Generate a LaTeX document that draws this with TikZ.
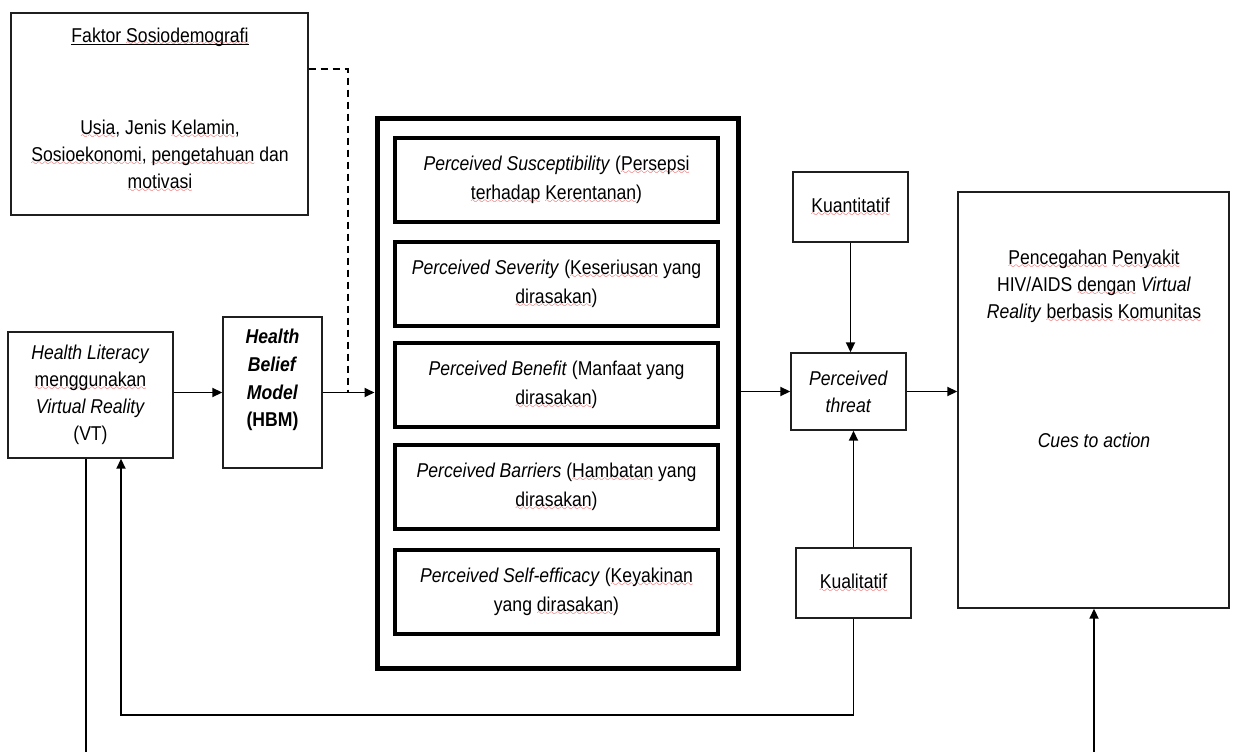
\documentclass[tikz,border=0pt]{standalone}
\usepackage{fontspec}
\setmainfont{Liberation Sans}[FakeStretch=0.88]
\usetikzlibrary{arrows.meta}
\definecolor{spellred}{RGB}{225,25,25}
% red wavy underline for flagged words
\font\wavefont=lasy10 at 9pt
\newcommand\sq[1]{\setbox0\hbox{#1}%
  \rlap{\textcolor{spellred}{\lower4pt\hbox to\wd0{\xleaders\hbox{\wavefont\char58}\hfil}}}\box0\relax}
\begin{document}
\begin{tikzpicture}[x=1pt,y=-1pt,
  txt/.style={inner sep=0pt, align=center, font=\fontsize{20}{27}\selectfont},
  thinbox/.style={draw=black!88, line width=1.4pt, inner sep=0pt, align=center,
    font=\fontsize{20}{27}\selectfont},
  thickbox/.style={draw=black, line width=4pt, inner sep=0pt, align=center,
    font=\fontsize{20}{29}\selectfont, minimum width=323pt, minimum height=84pt},
  arr/.style={line width=1.8pt, -{Triangle[length=10pt,width=9pt]}},
  plainline/.style={line width=1.8pt},
  dashline/.style={line width=1.8pt, dash pattern=on 7pt off 5pt}
]
\useasboundingbox (0,0) rectangle (1233,752);

% socio-demographic factors
\node[thinbox, minimum width=297pt, minimum height=202pt] (faktor) at (159.5,114) {};
\node[txt, anchor=base] (ftitle) at (160,42) {Faktor \sq{Sosiodemografi}};
\draw[line width=1pt] ([yshift=-2.2pt]ftitle.base west) -- ([yshift=-2.2pt]ftitle.base east);
\node[txt] (fbody) at (160,156)
  {\sq{Usia}, Jenis \sq{Kelamin},\\ \sq{Sosioekonomi}, \sq{pengetahuan} dan\\ \sq{motivasi}};

% health literacy and HBM
\node[thinbox, minimum width=165pt, minimum height=126pt] (vt) at (90.5,395)
  {\textit{Health Literacy}\\ \sq{menggunakan}\\ \textit{Virtual Reality}\\ (VT)};
\node[thinbox, minimum width=99pt, minimum height=151pt] (hbm) at (272.5,392.5) {};
\node[txt, font=\fontsize{20}{27.7}\selectfont\bfseries] (hbmtext) at (272.5,380)
  {\textit{Health}\\ \textit{Belief}\\ \textit{Model}\\ (HBM)};

% HBM constructs
\node[draw=black, line width=5pt, minimum width=361pt, minimum height=550pt, inner sep=0pt]
  (outer) at (557.5,393) {};
\node[thickbox] (c1) at (556.5,180)
  {\textit{Perceived Susceptibility} (\sq{Persepsi}\\ \sq{terhadap} \sq{Kerentanan})};
\node[thickbox] (c2) at (556.5,283.5)
  {\textit{Perceived Severity} (\sq{Keseriusan} yang\\ \sq{dirasakan})};
\node[thickbox] (c3) at (556.5,385)
  {\textit{Perceived Benefit} (Manfaat yang\\ \sq{dirasakan})};
\node[thickbox] (c4) at (556.5,486.5)
  {\textit{Perceived Barriers} (\sq{Hambatan} yang\\ \sq{dirasakan})};
\node[thickbox] (c5) at (556.5,591.5)
  {\textit{Perceived Self-efficacy} (\sq{Keyakinan}\\ yang \sq{dirasakan})};

% threat and methods
\node[thinbox, minimum width=115pt, minimum height=70pt] (kuan) at (850.5,207) {\sq{Kuantitatif}};
\node[thinbox, minimum width=115pt, minimum height=77pt]
  (pt) at (848.5,391.5) {\textit{Perceived}\\ \textit{threat}};
\node[thinbox, minimum width=115pt, minimum height=70pt] (kual) at (853.5,583) {\sq{Kualitatif}};

% outcome
\node[thinbox, minimum width=271pt, minimum height=416pt] (right) at (1093.5,400) {};
\node[txt] (outtext) at (1094,286)
  {\sq{Pencegahan} \sq{Penyakit}\\ HIV/AIDS \sq{dengan} \textit{Virtual}\\ \textit{Reality} \sq{berbasis} \sq{Komunitas}};
\node[txt] (cues) at (1094,440) {\textit{Cues to action}};

% connectors
\coordinate (dk) at (348,69);
\coordinate (fb) at (121,715);
\coordinate (bl) at (86,752);
\coordinate (br) at (1094,752);

\draw[arr] (vt.east |- hbm.west) -- (hbm.west);
\draw[arr] (hbm.east) -- (hbm.east -| outer.west);
\draw[dashline] (faktor.east |- dk) -- (dk) -- (dk |- hbm.east);
\draw[arr] (outer.east |- pt.west) -- (pt.west);
\draw[arr] (pt.east) -- (pt.east -| right.west);
\draw[arr] (kuan.south) -- (kuan.south |- pt.north);
\draw[arr] (kual.north) -- (kual.north |- pt.south);
\draw[arr] (kual.south) -- (kual.south |- fb) -- (fb) -- (fb |- vt.south);
\draw[plainline] (bl |- vt.south) -- (bl);
\draw[arr] (br) -- (br |- right.south);
\end{tikzpicture}
\end{document}
